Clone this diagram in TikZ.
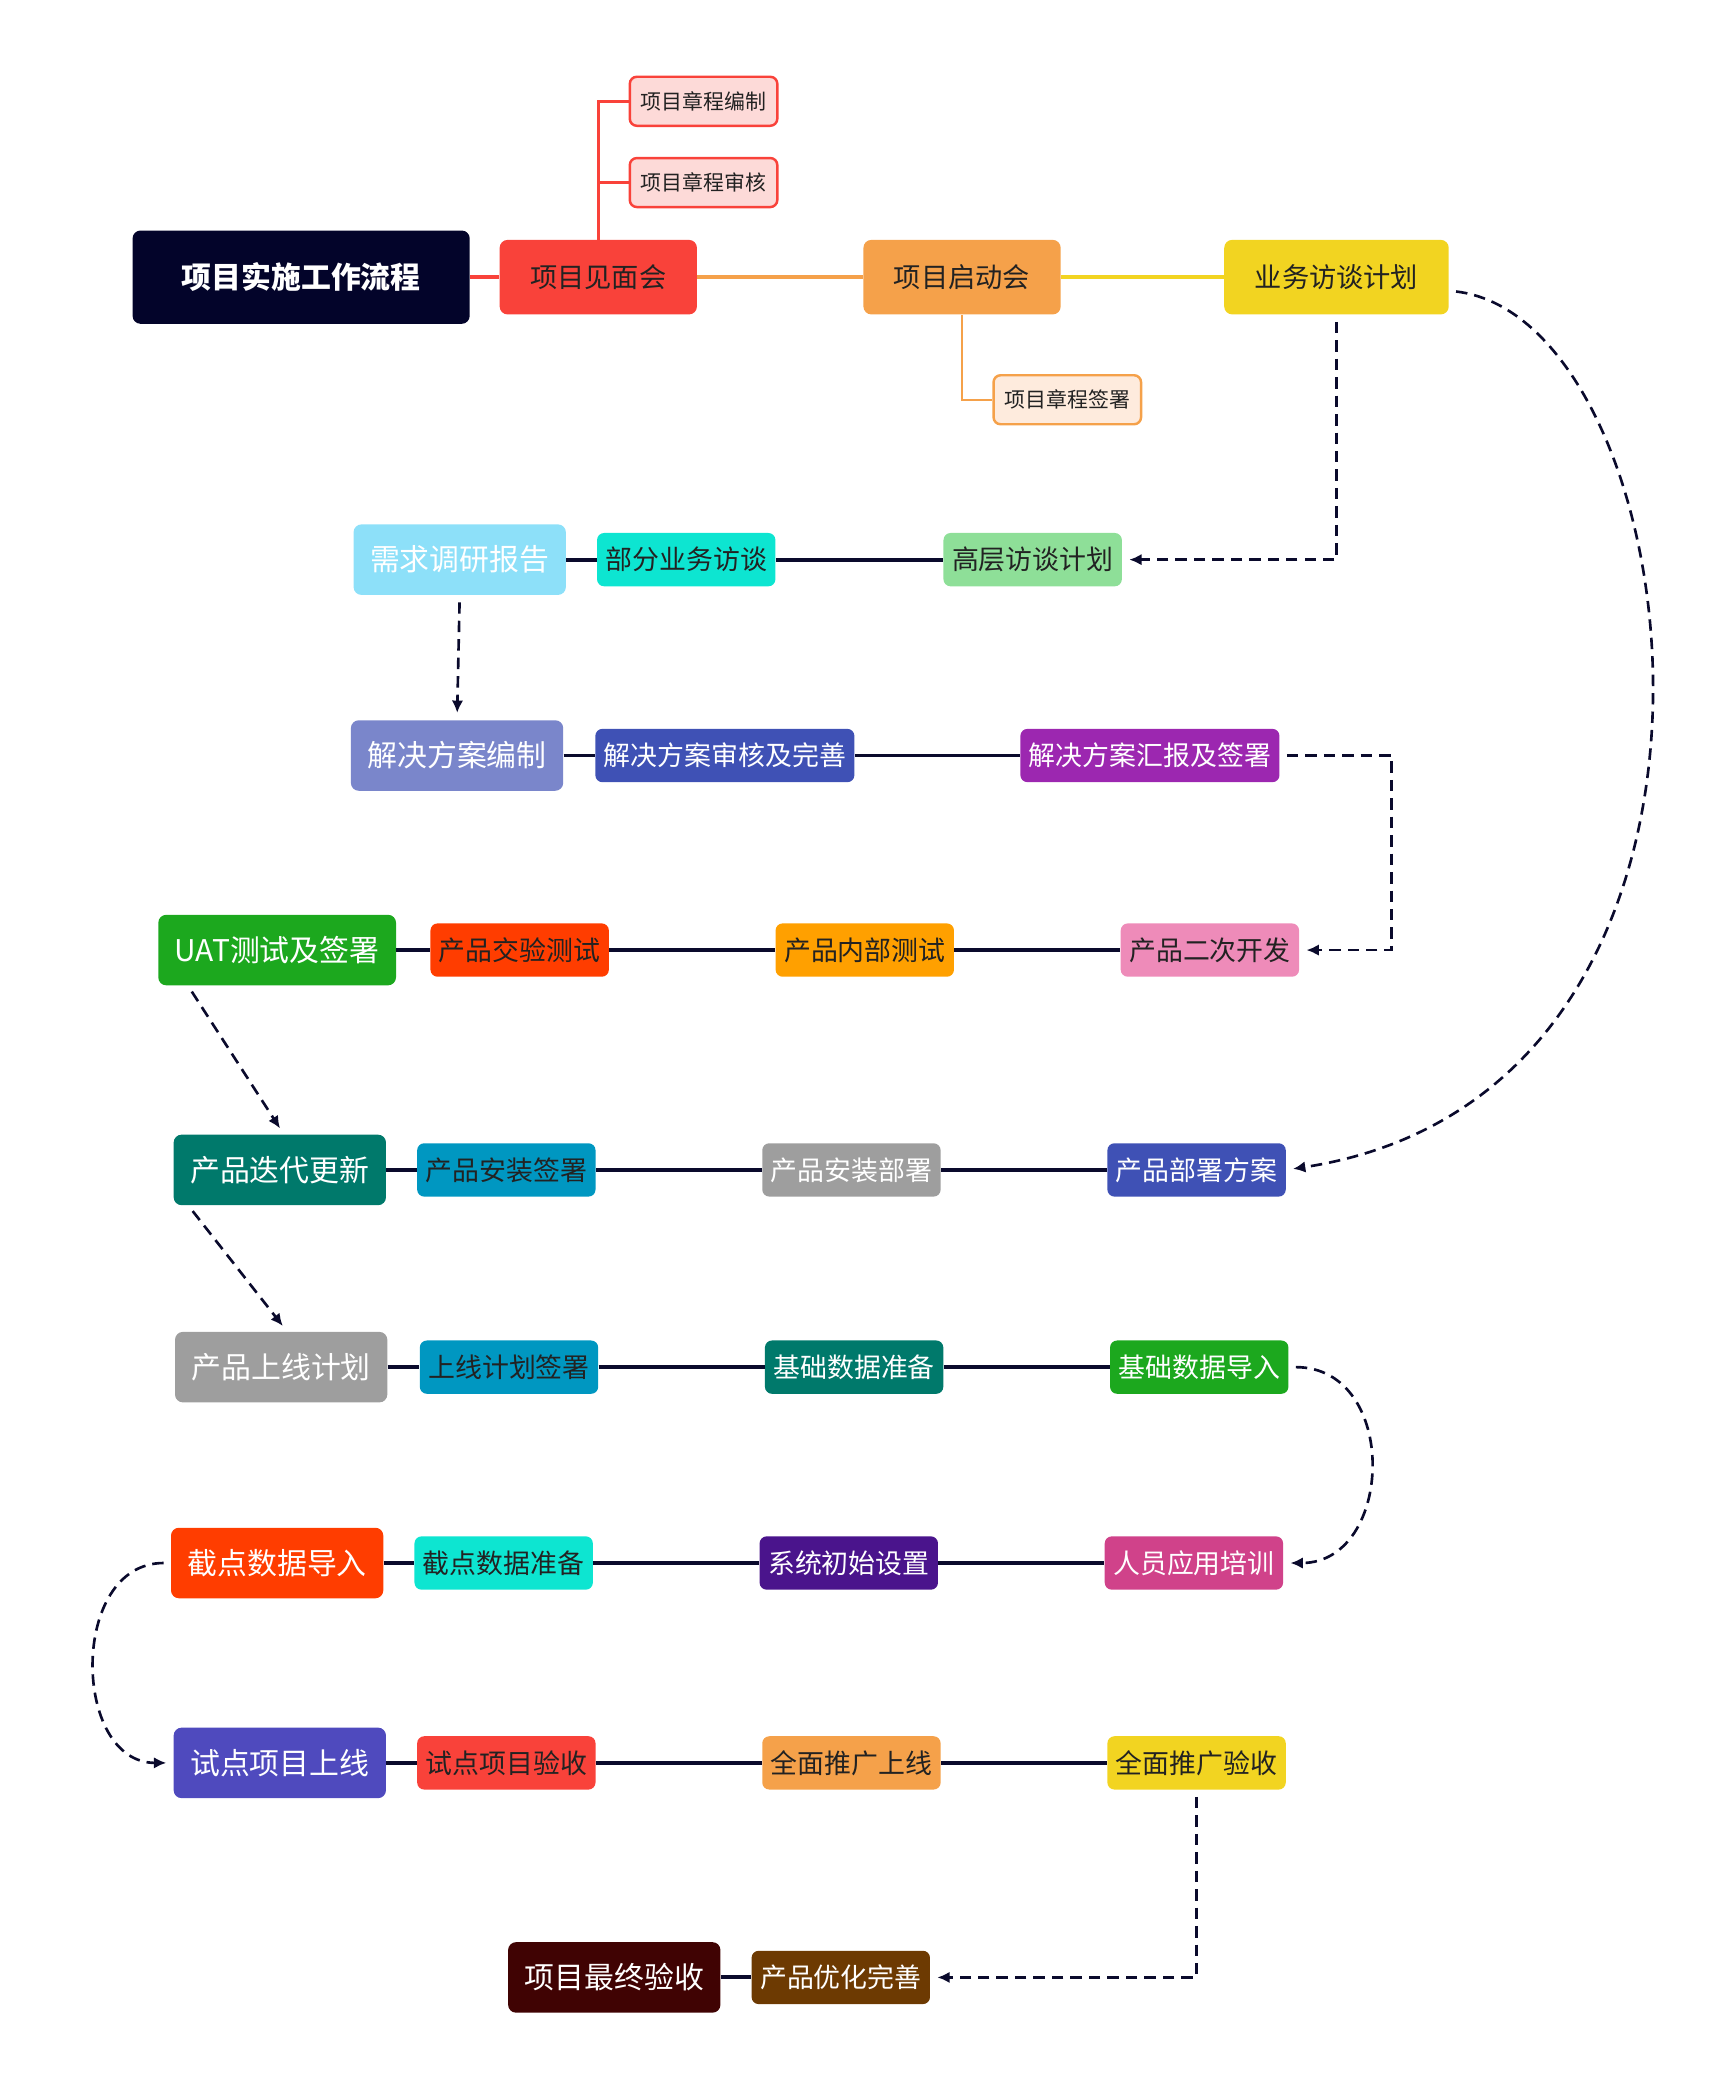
\documentclass[tikz,border=0pt]{standalone}
\usepackage{fontspec}
\newfontfamily\cjk{Noto Sans CJK SC}
\usetikzlibrary{positioning}
\usetikzlibrary{arrows.meta}
\definecolor{rootc}{HTML}{03042A}
\definecolor{linec}{HTML}{0A0A2C}
\definecolor{txtc}{HTML}{222222}
\definecolor{redc}{HTML}{F9423A}
\definecolor{pinkl}{HTML}{FDDAD8}
\definecolor{orangec}{HTML}{F5A14A}
\definecolor{orangel}{HTML}{FEEBDD}
\definecolor{yellowc}{HTML}{F2D421}
\definecolor{skyc}{HTML}{8DE0F9}
\definecolor{turqc}{HTML}{0DE5D1}
\definecolor{mintc}{HTML}{8EDF98}
\definecolor{lavc}{HTML}{7A86CB}
\definecolor{indigoc}{HTML}{3F51B5}
\definecolor{purplec}{HTML}{9C27B0}
\definecolor{greenc}{HTML}{1CA81E}
\definecolor{flamec}{HTML}{FF3D00}
\definecolor{amberc}{HTML}{FFA000}
\definecolor{pinkc}{HTML}{EE8BB9}
\definecolor{tealc}{HTML}{00796B}
\definecolor{cyanc}{HTML}{0097C1}
\definecolor{greyc}{HTML}{9E9E9E}
\definecolor{dpurplec}{HTML}{4A148C}
\definecolor{magentac}{HTML}{D0428A}
\definecolor{irisc}{HTML}{4F4ABE}
\definecolor{maroonc}{HTML}{400303}
\definecolor{brownc}{HTML}{6D3A02}

\begin{document}
\begin{tikzpicture}[x=0.026646cm, y=-0.026646cm,
    rootbox/.style={rounded corners=4.5pt, fill=rootc, text=white, font=\cjk\fontsize{17}{20}\selectfont\bfseries, minimum width=6.74cm, minimum height=1.865cm},
    topbox/.style={rounded corners=4.5pt, text=txtc, font=\cjk\fontsize{15.5}{18}\selectfont, inner xsep=0.61cm, minimum height=1.49cm},
    subbox/.style={rounded corners=4pt, line width=1.4pt, text=txtc, font=\cjk\fontsize{11.9}{14}\selectfont, inner xsep=0.22cm, minimum height=0.98cm},
    bigbox/.style={rounded corners=4.5pt, font=\cjk\fontsize{17}{20}\selectfont, inner xsep=0.33cm, minimum height=1.41cm},
    stepbox/.style={rounded corners=4pt, font=\cjk\fontsize{15.3}{18}\selectfont, inner xsep=0.17cm, minimum height=1.066cm},
    link/.style={draw=linec, line width=2.2pt},
    flow/.style={draw=linec, line width=1.5pt, dash pattern=on 6.5pt off 4pt, -{Latex[length=7pt,width=6.5pt]}, shorten <=4pt, shorten >=4pt}]
  \useasboundingbox (0,0) rectangle (1300,1567);

  % head of the process
  \node[rootbox] (root) at (226,208) {项目实施工作流程};
  \node[topbox, fill=redc] (meet) at (449,208) {项目见面会};
  \node[topbox, fill=orangec] (kick) at (722,208) {项目启动会};
  \node[topbox, fill=yellowc] (biz) at (1003,208) {业务访谈计划};
  \node[subbox, draw=redc, fill=pinkl] (chart1) at (528,76) {项目章程编制};
  \node[subbox, draw=redc, fill=pinkl] (chart2) at (528,137) {项目章程审核};
  \node[subbox, draw=orangec, fill=orangel] (chartsign) at (801,300) {项目章程签署};

  \draw[redc, line width=2.2pt] (root) -- (meet);
  \draw[orangec, line width=2.2pt] (meet) -- (kick);
  \draw[yellowc, line width=2.2pt] (kick) -- (biz);
  \draw[redc, line width=1.4pt] (meet.north) |- (chart1.west);
  \draw[redc, line width=1.4pt] (meet.north) |- (chart2.west);
  \draw[orangec, line width=1.4pt] (kick.south) |- (chartsign.west);

  % interviews
  \node[bigbox, fill=skyc, text=white] (req) at (345,420) {需求调研报告};
  \node[stepbox, fill=turqc, text=txtc] (partial) at (515,420) {部分业务访谈};
  \node[stepbox, fill=mintc, text=txtc] (senior) at (775,420) {高层访谈计划};
  \draw[link] (req) -- (partial) -- (senior);

  % solution
  \node[bigbox, fill=lavc, text=white] (plan) at (343,567) {解决方案编制};
  \node[stepbox, fill=indigoc, text=white] (planrev) at (544,567) {解决方案审核及完善};
  \node[stepbox, fill=purplec, text=white] (plansign) at (863,567) {解决方案汇报及签署};
  \draw[link] (plan) -- (planrev) -- (plansign);

  % development and tests
  \node[bigbox, fill=greenc, text=white] (uat) at (208,713) {UAT测试及签署};
  \node[stepbox, fill=flamec, text=txtc] (accept) at (390,713) {产品交验测试};
  \node[stepbox, fill=amberc, text=txtc] (inner) at (649,713) {产品内部测试};
  \node[stepbox, fill=pinkc, text=txtc] (dev2) at (908,713) {产品二次开发};
  \draw[link] (uat) -- (accept) -- (inner) -- (dev2);

  % installation
  \node[bigbox, fill=tealc, text=white] (iter) at (210,878) {产品迭代更新};
  \node[stepbox, fill=cyanc, text=txtc] (instsign) at (380,878) {产品安装签署};
  \node[stepbox, fill=greyc, text=white] (inst) at (639,878) {产品安装部署};
  \node[stepbox, fill=indigoc, text=white] (deploy) at (898,878) {产品部署方案};
  \draw[link] (iter) -- (instsign) -- (inst) -- (deploy);

  % go-live plan
  \node[bigbox, fill=greyc, text=white] (golive) at (211,1026) {产品上线计划};
  \node[stepbox, fill=cyanc, text=txtc] (golivesign) at (382,1026) {上线计划签署};
  \node[stepbox, fill=tealc, text=white] (dataprep) at (641,1026) {基础数据准备};
  \node[stepbox, fill=greenc, text=white] (dataimp) at (900,1026) {基础数据导入};
  \draw[link] (golive) -- (golivesign) -- (dataprep) -- (dataimp);

  % training and cut-over
  \node[bigbox, fill=flamec, text=white] (cutimp) at (208,1173) {截点数据导入};
  \node[stepbox, fill=turqc, text=txtc] (cutprep) at (378,1173) {截点数据准备};
  \node[stepbox, fill=dpurplec, text=white] (sysinit) at (637,1173) {系统初始设置};
  \node[stepbox, fill=magentac, text=white] (train) at (896,1173) {人员应用培训};
  \draw[link] (cutimp) -- (cutprep) -- (sysinit) -- (train);

  % pilot and rollout
  \node[bigbox, fill=irisc, text=white] (pilot) at (210,1323) {试点项目上线};
  \node[stepbox, fill=redc, text=txtc] (pilotacc) at (380,1323) {试点项目验收};
  \node[stepbox, fill=orangec, text=txtc] (rollout) at (639,1323) {全面推广上线};
  \node[stepbox, fill=yellowc, text=txtc] (rolloutacc) at (898,1323) {全面推广验收};
  \draw[link] (pilot) -- (pilotacc) -- (rollout) -- (rolloutacc);

  % final acceptance
  \node[bigbox, fill=maroonc, text=white] (final) at (461,1484) {项目最终验收};
  \node[stepbox, fill=brownc, text=white] (optim) at (631,1484) {产品优化完善};
  \draw[link] (final) -- (optim);

  % dashed flow between the rows
  \draw[flow] (biz.south) |- (senior.east);
  \draw[flow] ([yshift=-0.27cm]biz.east) .. controls (1272,240) and (1345,820) .. (deploy.east);
  \draw[flow] (req.south) -- (plan.north);
  \draw[flow] (plansign.east) -- ++(84,0) |- (dev2.east);
  \draw[flow] ([xshift=0.6cm]uat.south west) -- ([xshift=0.08cm]iter.north);
  \draw[flow] ([xshift=0.3cm]iter.south west) -- ([xshift=0.12cm]golive.north);
  \draw[flow] (dataimp.east) to[out=0, in=0, looseness=1.45] (train.east);
  \draw[flow] (cutimp.west) to[out=180, in=180, looseness=1.3] (pilot.west);
  \draw[flow] (rolloutacc.south) |- (optim.east);
\end{tikzpicture}
\end{document}
